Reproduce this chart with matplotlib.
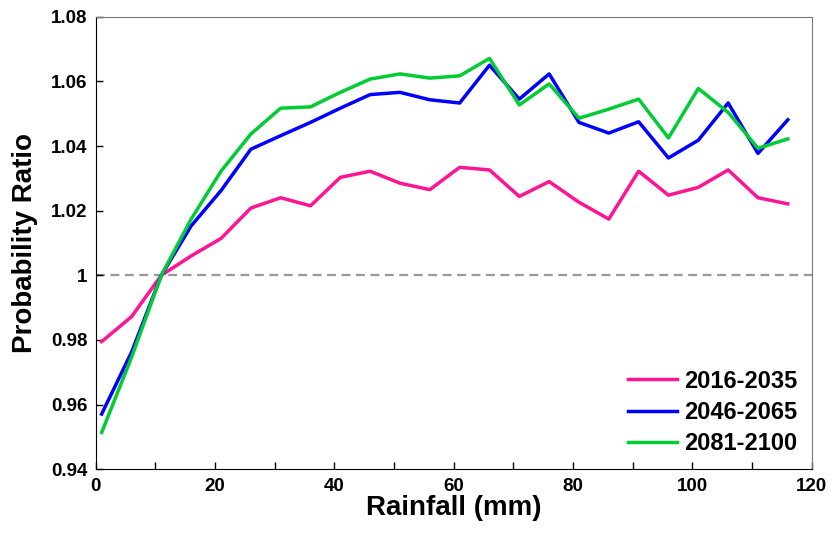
import matplotlib
matplotlib.use('Agg')
import matplotlib.pyplot as plt
from matplotlib.ticker import MultipleLocator, FuncFormatter

plt.rcParams['font.family'] = ['Liberation Sans', 'DejaVu Sans']
plt.rcParams['font.weight'] = 'bold'

rainfall = [1, 6, 11, 16, 21, 26, 31, 36, 41, 46, 51, 56,
            61, 66, 71, 76, 81, 86, 91, 96, 101, 106, 111, 116]

p2016 = [0.9795, 0.9872, 1.0000, 1.0060, 1.0114, 1.0208, 1.0240, 1.0215,
         1.0303, 1.0322, 1.0285, 1.0265, 1.0334, 1.0326, 1.0244, 1.0290,
         1.0226, 1.0174, 1.0322, 1.0248, 1.0272, 1.0326, 1.0240, 1.0221]
p2046 = [0.9571, 0.9762, 1.0000, 1.0153, 1.0262, 1.0390, 1.0432, 1.0473,
         1.0517, 1.0559, 1.0566, 1.0543, 1.0533, 1.0650, 1.0545, 1.0623,
         1.0473, 1.0440, 1.0475, 1.0363, 1.0418, 1.0533, 1.0377, 1.0481]
p2081 = [0.9514, 0.9746, 1.0000, 1.0174, 1.0322, 1.0437, 1.0517, 1.0521,
         1.0566, 1.0607, 1.0623, 1.0610, 1.0617, 1.0671, 1.0527, 1.0592,
         1.0486, 1.0514, 1.0545, 1.0425, 1.0578, 1.0504, 1.0393, 1.0422]

labels = ['2016-2035', '2046-2065', '2081-2100']
colors = ['#ff1493', '#0000ff', '#00cc33']

fig = plt.figure(figsize=(8.33, 5.33), dpi=100)
ax = fig.add_axes([0.1149, 0.1195, 0.8595, 0.8492])

ax.axhline(1.0, color='#999999', linestyle=(0, (4, 2.5)), linewidth=1.6, zorder=1)
for series, label, color in zip([p2016, p2046, p2081], labels, colors):
    ax.plot(rainfall, series, color=color, linewidth=2.5, label=label, zorder=2)

ax.set_xlim(0, 120)
ax.set_ylim(0.94, 1.08)
ax.xaxis.set_major_locator(MultipleLocator(20))
ax.xaxis.set_minor_locator(MultipleLocator(10))
ax.yaxis.set_major_locator(MultipleLocator(0.02))
ax.yaxis.set_major_formatter(FuncFormatter(lambda v, p: '%g' % round(v, 2)))
ax.tick_params(which='both', direction='in', top=False, right=False,
               labelsize=13.5, length=5, width=1, pad=6)
for lab in ax.get_xticklabels() + ax.get_yticklabels():
    lab.set_fontweight('bold')

for side in ['top', 'right']:
    ax.spines[side].set_color('#777777')
for side in ['left', 'bottom']:
    ax.spines[side].set_color('black')

ax.set_xlabel('Rainfall (mm)', fontsize=20, fontweight='bold', labelpad=0)
ax.set_ylabel('Probability Ratio', fontsize=20, fontweight='bold', labelpad=9)

leg = ax.legend(loc='lower right', frameon=False, fontsize=17, handlelength=2.1,
                handletextpad=0.3, labelspacing=0.35, borderaxespad=0.2)
for t in leg.get_texts():
    t.set_fontweight('bold')

fig.savefig('out.png', dpi=100)
